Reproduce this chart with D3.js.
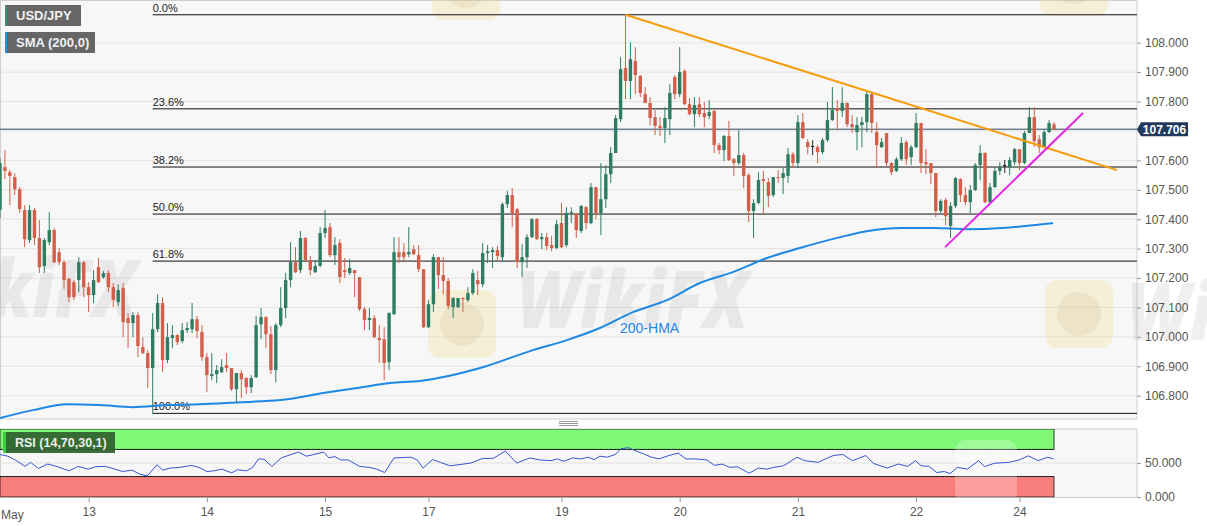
<!DOCTYPE html>
<html>
<head>
<meta charset="utf-8">
<script src="https://cdn.jsdelivr.net/npm/d3@7"></script>
<style>
  body { margin: 0; background: #fff; }
  svg { display: block; font-family: "Liberation Sans", Arial, sans-serif; }
</style>
</head>
<body>
<svg id="chart" width="1207" height="526"></svg>
<script>
// hourly USD/JPY candles
const open = [107.431,107.577,107.560,107.543,107.502,107.431,107.329,107.431,107.336,107.241,
107.322,107.363,107.288,107.254,107.197,107.186,107.193,107.254,107.169,107.142,
107.237,107.203,107.217,107.169,107.118,107.166,107.064,107.047,107.074,106.965,
106.945,106.894,107.026,107.115,106.921,106.996,107.006,106.986,107.023,107.026,
107.060,107.016,106.931,106.867,106.873,106.880,106.904,106.894,106.822,106.877,
106.860,106.829,106.863,107.043,107.067,107.009,106.887,107.040,107.098,107.193,
107.254,107.227,107.336,107.261,107.220,107.241,107.353,107.373,107.278,107.319,
107.227,107.217,107.227,107.203,107.094,107.057,107.064,106.996,106.992,106.914,
107.077,107.288,107.288,107.281,107.298,107.278,107.230,107.033,107.111,107.271,
107.210,107.190,107.101,107.101,107.132,107.125,107.149,107.193,107.179,107.285,
107.288,107.295,107.271,107.451,107.482,107.434,107.254,107.271,107.339,107.400,
107.332,107.339,107.312,107.302,107.387,107.312,107.421,107.417,107.360,107.441,
107.387,107.509,107.421,107.468,107.553,107.625,107.740,107.914,107.870,107.938,
107.887,107.825,107.795,107.747,107.717,107.710,107.740,107.883,107.825,107.904,
107.791,107.757,107.791,107.761,107.751,107.768,107.652,107.635,107.683,107.604,
107.591,107.618,107.550,107.428,107.455,107.536,107.526,107.482,107.543,107.540,
107.547,107.621,107.591,107.730,107.662,107.649,107.645,107.628,107.669,107.737,
107.778,107.768,107.795,107.723,107.696,107.720,107.730,107.825,107.696,107.645,
107.693,107.591,107.564,107.604,107.662,107.611,107.645,107.727,107.594,107.591,
107.557,107.428,107.465,107.377,107.445,107.536,107.482,107.458,107.499,107.584,
107.625,107.458,107.509,107.564,107.584,107.577,107.594,107.638,107.591,107.693,
107.747,107.672,107.645,107.696,107.723];
const high = [107.608,107.635,107.567,107.557,107.509,107.448,107.448,107.438,107.397,107.336,
107.424,107.370,107.302,107.261,107.200,107.193,107.271,107.258,107.186,107.227,
107.268,107.224,107.227,107.183,107.179,107.183,107.081,107.084,107.084,106.999,
106.955,107.081,107.145,107.135,107.047,107.040,107.009,107.047,107.050,107.115,
107.071,107.040,106.945,106.945,106.904,106.924,106.945,106.894,106.877,106.887,
106.863,106.870,107.071,107.098,107.071,107.037,107.047,107.169,107.217,107.322,
107.305,107.360,107.339,107.275,107.261,107.373,107.431,107.387,107.339,107.332,
107.268,107.264,107.227,107.203,107.101,107.098,107.074,107.040,107.033,107.084,
107.339,107.339,107.319,107.373,107.312,107.312,107.230,107.125,107.281,107.271,
107.271,107.200,107.135,107.132,107.135,107.169,107.230,107.224,107.319,107.312,
107.305,107.309,107.458,107.496,107.506,107.438,107.315,107.349,107.404,107.404,
107.353,107.353,107.343,107.397,107.455,107.441,107.441,107.421,107.448,107.445,
107.523,107.509,107.591,107.584,107.645,107.754,107.951,108.095,108.001,107.985,
107.890,107.849,107.815,107.771,107.747,107.781,107.859,107.890,107.985,107.910,
107.812,107.815,107.815,107.798,107.805,107.771,107.659,107.686,107.734,107.608,
107.703,107.625,107.557,107.468,107.560,107.564,107.540,107.543,107.567,107.574,
107.642,107.628,107.754,107.761,107.672,107.669,107.652,107.676,107.798,107.849,
107.805,107.849,107.798,107.754,107.747,107.747,107.839,107.832,107.730,107.676,
107.693,107.594,107.611,107.679,107.669,107.652,107.761,107.727,107.639,107.591,
107.557,107.468,107.472,107.458,107.543,107.540,107.509,107.516,107.591,107.652,
107.628,107.523,107.577,107.594,107.601,107.611,107.642,107.638,107.700,107.781,
107.781,107.686,107.703,107.737,107.730];
const low = [107.404,107.536,107.448,107.482,107.421,107.305,107.319,107.312,107.217,107.217,
107.312,107.251,107.244,107.163,107.118,107.125,107.152,107.135,107.084,107.115,
107.183,107.197,107.152,107.101,107.105,106.999,106.962,106.999,106.931,106.941,
106.826,106.740,107.016,106.880,106.911,106.962,106.972,106.979,107.013,107.013,
106.996,106.918,106.812,106.853,106.843,106.877,106.880,106.816,106.775,106.792,
106.805,106.809,106.860,106.992,106.962,106.873,106.846,107.033,107.064,107.169,
107.217,107.217,107.254,107.210,107.217,107.237,107.336,107.271,107.244,107.183,
107.200,107.210,107.135,107.088,107.023,107.023,106.996,106.911,106.853,106.887,
107.074,107.251,107.254,107.271,107.278,107.220,107.030,107.030,107.084,107.163,
107.145,107.094,107.064,107.098,107.084,107.118,107.142,107.142,107.169,107.251,
107.234,107.258,107.258,107.438,107.373,107.234,107.203,107.234,107.336,107.329,
107.298,107.295,107.291,107.298,107.302,107.305,107.387,107.336,107.353,107.366,
107.383,107.400,107.346,107.438,107.523,107.625,107.730,107.808,107.808,107.825,
107.815,107.795,107.720,107.686,107.683,107.659,107.686,107.808,107.815,107.788,
107.754,107.713,107.747,107.713,107.740,107.625,107.621,107.598,107.598,107.547,
107.584,107.506,107.390,107.336,107.451,107.417,107.441,107.475,107.523,107.485,
107.523,107.574,107.574,107.672,107.621,107.618,107.591,107.621,107.662,107.734,
107.703,107.747,107.713,107.693,107.635,107.645,107.696,107.693,107.574,107.642,
107.577,107.550,107.560,107.598,107.584,107.584,107.642,107.557,107.553,107.519,
107.407,107.421,107.380,107.336,107.438,107.458,107.448,107.421,107.496,107.533,
107.455,107.455,107.506,107.550,107.557,107.550,107.584,107.567,107.587,107.693,
107.645,107.625,107.642,107.693,107.703];
const close = [107.591,107.564,107.547,107.502,107.434,107.332,107.431,107.336,107.237,107.329,
107.363,107.254,107.254,107.193,107.135,107.135,107.254,107.169,107.142,107.193,
107.186,107.217,107.169,107.125,107.159,107.050,107.047,107.074,106.969,106.945,
106.894,107.026,107.115,106.921,106.999,107.006,106.982,107.023,107.030,107.060,
107.020,106.931,106.870,106.873,106.887,106.897,106.894,106.822,106.877,106.856,
106.829,106.860,107.040,107.067,107.009,106.887,107.040,107.098,107.193,107.254,
107.220,107.336,107.261,107.227,107.241,107.353,107.370,107.278,107.312,107.203,
107.220,107.234,107.217,107.094,107.057,107.064,106.999,106.989,106.911,107.081,
107.288,107.271,107.271,107.288,107.281,107.230,107.033,107.111,107.271,107.210,
107.190,107.105,107.132,107.132,107.128,107.149,107.217,107.179,107.285,107.291,
107.295,107.275,107.451,107.482,107.421,107.254,107.271,107.339,107.400,107.332,
107.339,107.309,107.302,107.383,107.305,107.421,107.424,107.363,107.445,107.387,
107.509,107.421,107.468,107.553,107.625,107.744,107.910,107.870,107.944,107.890,
107.829,107.795,107.744,107.717,107.710,107.744,107.829,107.825,107.900,107.791,
107.757,107.788,107.757,107.747,107.764,107.652,107.635,107.683,107.601,107.591,
107.618,107.547,107.428,107.455,107.533,107.530,107.479,107.543,107.540,107.557,
107.621,107.591,107.730,107.676,107.645,107.649,107.628,107.669,107.737,107.771,
107.768,107.795,107.723,107.713,107.720,107.730,107.825,107.727,107.652,107.662,
107.591,107.560,107.604,107.659,107.604,107.645,107.727,107.591,107.587,107.557,
107.428,107.462,107.410,107.445,107.540,107.482,107.458,107.499,107.584,107.625,
107.458,107.509,107.564,107.577,107.584,107.601,107.638,107.591,107.693,107.747,
107.666,107.645,107.696,107.727,107.706];

// 200-hour moving average, sampled at candle indexes
const smaIdx = [0,6.7,13.6,20.3,27,33.9,40.6,48.7,56.9,65.6,72.5,79.2,85.3,97.5,108.2,115.1,121.8,128.5,135.4,142.1,148.8,155.7,162.4,170.6,176.2,183.1,189.8,196.5,203.5,210.2,213.8];
const smaVal = [106.724,106.751,106.771,106.768,106.761,106.768,106.771,106.778,106.785,106.809,106.826,106.843,106.850,106.894,106.955,106.989,107.030,107.084,107.125,107.183,107.220,107.268,107.302,107.339,107.360,107.370,107.370,107.366,107.370,107.380,107.387];

// RSI(14) points
const rsiIdx = [0,1.6,3.1,5.1,6.2,7.8,9.7,11.7,14,15.9,17.9,19.4,21.4,23.3,24.9,26.8,28.4,29.9,31.9,33,
34.6,36.5,38.9,40.4,42,43.5,45.1,47,48.2,50.1,51.3,52.5,53.6,55.2,57.1,59.1,60.6,62.2,63.7,65.7,
66.8,68,69.2,70.7,73,75,76.5,78.1,80,83.5,84.7,85.9,87.8,89.4,91.3,93.2,95.6,97.9,100.2,102.6,
104.9,107.6,109.6,111.9,113.2,114.4,116.3,117.9,119.5,120.6,121.8,123.3,124.9,126.1,127.6,128.8,130.3,132.3,133.8,135.8,
137.7,139.3,141.2,143.5,145.1,146.6,148.2,149.7,152.1,154,155.6,157.1,159.1,160.2,161.8,163.3,166.1,167.6,169.2,171.1,
173.1,175.8,177.3,180.1,182.4,184.3,185.9,187,188.6,190.2,191.7,192.9,194.4,196.4,198.7,199.9,201.8,204.9,206.9,208.8,
210.8,212.7,213.9];
const rsiVal = [62.5,60,54.5,45,51,42,48.5,44.5,38.5,45,41,44.5,45,41,37.5,39.5,33.5,31,47.5,39.5,
42.5,43.5,46.5,43.5,37.5,38.5,41,35.5,40,38.5,43.5,56,55.5,45,57.5,62.5,66,60,62.5,66,
57.5,59.5,54.5,54.5,45,43.5,41,36,57.5,58.5,54.5,42.5,55,51,46,47.5,50,56.5,57,67.5,
50,57.5,54.5,53.5,56,52.5,57.5,56,58.5,55,60,58.5,62.5,71,72.5,68.5,64.5,58.5,56,61,
64.5,56,56,54.5,46.5,48.5,43.5,44.5,35,42.5,41,43.5,46,51,58.5,53.5,51,56,61,62.5,
53.5,61,49.5,42.5,48.5,45,53.5,46,45,36,37.5,34.5,43.5,41,53.5,44.5,49.5,51,54.5,60.5,
53.5,58.5,56];

// drawn trend lines (index, price)
const resIdx = [127, 226.8], resPrice = [108.095, 107.567];
const supIdx = [191.9, 219.9], supPrice = [107.305, 107.761];

const fibRatios = [0, 0.236, 0.382, 0.5, 0.618, 1];
const fibLabels = ["0.0%", "23.6%", "38.2%", "50.0%", "61.8%", "100.0%"];
const priceTicks = d3.range(13).map(i => 106.8 + i * 0.1);
const rsiTicks = [0, 50];
const dayIdx = [18, 42, 66, 87, 114, 138, 162, 186, 207];
const dayLabels = ["13", "14", "15", "17", "19", "20", "21", "22", "24"];

const svg = d3.select("#chart");
const plotR = 1137, mainT = 0.5, mainB = 419, rsiT = 429, rsiB = 497.5;
const upCol = "#2e7d62", dnCol = "#d35f4b";

const n = open.length;
const x = d3.scaleLinear().domain([0, n - 1]).range([0, 1054]);
const y = d3.scaleLinear().domain([106.8, 108.1]).range([395.7, 13.3]);
const yr = d3.scaleLinear().domain([0, 100]).range([497, 429]);

svg.append("rect").attr("width", 1207).attr("height", 526).attr("fill", "#fff");

// panel backgrounds
svg.append("rect").attr("x", 0.5).attr("y", mainT).attr("width", plotR - 0.5).attr("height", mainB - mainT)
  .attr("fill", "#f7f7f7").attr("stroke", "#cfcfcf");
svg.append("rect").attr("x", 0.5).attr("y", rsiT).attr("width", plotR - 0.5).attr("height", rsiB - rsiT)
  .attr("fill", "#f7f7f7").attr("stroke", "#cfcfcf");

svg.append("clipPath").attr("id", "clipMain").append("rect")
  .attr("x", 0).attr("y", mainT).attr("width", plotR).attr("height", mainB - mainT);
svg.append("clipPath").attr("id", "clipRsi").append("rect")
  .attr("x", 0).attr("y", rsiT).attr("width", plotR).attr("height", rsiB - rsiT);

// grid
svg.append("g").selectAll("line").data(priceTicks).join("line")
  .attr("x1", 1).attr("x2", plotR).attr("y1", d => y(d)).attr("y2", d => y(d))
  .attr("stroke", "#e3e3e3");

// watermarks
const wm = svg.append("g").attr("pointer-events", "none");
[[428, 290], [1045, 280], [432, -48], [1040, -52]].forEach(([wx, wy]) => {
  wm.append("rect").attr("x", wx).attr("y", wy).attr("width", 68).attr("height", 68).attr("rx", 12)
    .attr("fill", "#f3dc8a").attr("opacity", 0.28);
  wm.append("circle").attr("cx", wx + 34).attr("cy", wy + 34).attr("r", 22)
    .attr("fill", "#b9a07a").attr("opacity", 0.15);
});
[[517, 328], [-94, 317], [1127, 340]].forEach(([wx, wy]) => {
  wm.append("text").attr("x", wx).attr("y", wy).text("WikiFX")
    .attr("font-family", "Open Sans, sans-serif").attr("font-weight", 800).attr("font-style", "italic")
    .attr("font-size", 80).attr("textLength", 231).attr("lengthAdjust", "spacingAndGlyphs")
    .attr("fill", "#9a9a9a").attr("opacity", 0.15);
});

const main = svg.append("g").attr("clip-path", "url(#clipMain)");

// fibonacci retracement
const hi = d3.max(high), lo = d3.min(low), loIdx = low.indexOf(lo);
const fib = main.append("g");
fibRatios.forEach((r, i) => {
  const py = y(hi - r * (hi - lo));
  fib.append("line").attr("x1", x(loIdx)).attr("x2", plotR).attr("y1", py).attr("y2", py)
    .attr("stroke", "#111").attr("stroke-width", 1);
  fib.append("text").attr("x", x(loIdx)).attr("y", py - 3).text(fibLabels[i])
    .attr("font-size", 11).attr("fill", "#222");
});

// last price line
const last = close[n - 1];
main.append("line").attr("x1", 0).attr("x2", plotR).attr("y1", y(last)).attr("y2", y(last))
  .attr("stroke", "#34495e").attr("stroke-width", 1);

// SMA
main.append("path")
  .datum(smaIdx.map((d, i) => [d, smaVal[i]]))
  .attr("d", d3.line().x(d => x(d[0])).y(d => y(d[1])).curve(d3.curveMonotoneX))
  .attr("fill", "none").attr("stroke", "#1e88e5").attr("stroke-width", 2);
main.append("text").attr("x", 620).attr("y", 333).text("200-HMA")
  .attr("font-size", 14).attr("fill", "#1e88e5");

// candles
const cg = main.append("g");
const colOf = i => close[i] > open[i] ? upCol : (close[i] < open[i] ? dnCol : "#222");
cg.selectAll("line").data(d3.range(n)).join("line")
  .attr("x1", i => x(i)).attr("x2", i => x(i))
  .attr("y1", i => y(high[i])).attr("y2", i => y(low[i]))
  .attr("stroke", colOf).attr("stroke-width", 1);
cg.selectAll("rect").data(d3.range(n)).join("rect")
  .attr("x", i => x(i) - 1.7).attr("width", 3.4)
  .attr("y", i => y(Math.max(open[i], close[i])))
  .attr("height", i => Math.max(1, Math.abs(y(open[i]) - y(close[i]))))
  .attr("fill", colOf);

// trend lines
const tl = d3.line().x(d => x(d[0])).y(d => y(d[1]));
main.append("path").datum(resIdx.map((d, i) => [d, resPrice[i]])).attr("d", tl)
  .attr("stroke", "#f59d0b").attr("stroke-width", 2).attr("fill", "none");
main.append("path").datum(supIdx.map((d, i) => [d, supPrice[i]])).attr("d", tl)
  .attr("stroke", "#e626e6").attr("stroke-width", 2).attr("fill", "none");

// price axis
const yAxis = svg.append("g").attr("transform", `translate(${plotR},0)`)
  .call(d3.axisRight(y).tickValues(priceTicks).tickFormat(d3.format(".3f")).tickSize(4).tickPadding(4));
yAxis.select(".domain").remove();
yAxis.selectAll(".tick line").attr("stroke", "#999");
yAxis.selectAll("text").attr("fill", "#555").attr("font-size", 12).attr("font-family", "Liberation Sans, Arial, sans-serif");

// last price tag
const tag = svg.append("g").attr("transform", `translate(0,${y(last)})`);
tag.append("path").attr("d", "M1137,0 L1141,-7 L1188,-7 L1188,7 L1141,7 Z").attr("fill", "#1f3a5c");
tag.append("text").attr("x", 1164.5).attr("y", 4.5).attr("text-anchor", "middle").text(last.toFixed(3))
  .attr("fill", "#fff").attr("font-weight", "bold").attr("font-size", 12);

// legend boxes
const legend = [["USD/JPY", 5, 5, 76, "#3a8f6e"], ["SMA (200,0)", 5, 32, 90, "#2a8fd6"]];
legend.forEach(([t, lx, ly, w, c]) => {
  svg.append("rect").attr("x", lx).attr("y", ly).attr("width", w).attr("height", 21).attr("fill", "#666");
  svg.append("rect").attr("x", lx).attr("y", ly).attr("width", 2).attr("height", 21).attr("fill", c);
  svg.append("text").attr("x", lx + 11).attr("y", ly + 15).text(t)
    .attr("fill", "#f2f2f2").attr("font-weight", "bold").attr("font-size", 13);
});

// panel grip
svg.append("g").selectAll("line").data([421.5, 423.5, 425.5]).join("line")
  .attr("x1", 559).attr("x2", 578).attr("y1", d => d).attr("y2", d => d).attr("stroke", "#999");

// RSI panel
const rsi = svg.append("g").attr("clip-path", "url(#clipRsi)");
rsi.append("line").attr("x1", 0).attr("x2", plotR).attr("y1", yr(50)).attr("y2", yr(50)).attr("stroke", "#e0e0e0");
rsi.append("rect").attr("x", 0).attr("y", yr(100)).attr("width", x(n - 1)).attr("height", yr(70) - yr(100))
  .attr("fill", "#7ff878").attr("stroke", "#111").attr("stroke-width", 0.8);
rsi.append("rect").attr("x", 0).attr("y", yr(30)).attr("width", x(n - 1)).attr("height", yr(0) - yr(30))
  .attr("fill", "#f87e7e").attr("stroke", "#111").attr("stroke-width", 0.8);
[70, 30].forEach(v => rsi.append("line").attr("x1", 0).attr("x2", x(n - 1)).attr("y1", yr(v)).attr("y2", yr(v))
  .attr("stroke", "#222").attr("stroke-dasharray", "2,1"));
rsi.append("rect").attr("x", 955).attr("y", 440).attr("width", 62).attr("height", 62).attr("rx", 10)
  .attr("fill", "#fff").attr("opacity", 0.25);
rsi.append("path")
  .datum(rsiIdx.map((d, i) => [d, rsiVal[i]]))
  .attr("d", d3.line().x(d => x(d[0])).y(d => yr(d[1])))
  .attr("fill", "none").attr("stroke", "#3454d1").attr("stroke-width", 1);

svg.append("rect").attr("x", 3).attr("y", 432).attr("width", 112).attr("height", 21).attr("fill", "#2f5f2f").attr("opacity", 0.92);
svg.append("rect").attr("x", 3).attr("y", 432).attr("width", 3).attr("height", 21).attr("fill", "#3ccf3c");
svg.append("text").attr("x", 15).attr("y", 447).text("RSI (14,70,30,1)")
  .attr("fill", "#eee").attr("font-weight", "bold").attr("font-size", 12.5);

const rAxis = svg.append("g").attr("transform", `translate(${plotR},0)`)
  .call(d3.axisRight(yr).tickValues(rsiTicks).tickFormat(d3.format(".3f")).tickSize(4).tickPadding(4));
rAxis.select(".domain").remove();
rAxis.selectAll(".tick line").attr("stroke", "#999");
rAxis.selectAll("text").attr("fill", "#555").attr("font-size", 12).attr("font-family", "Liberation Sans, Arial, sans-serif");

// time axis
const xAxis = svg.append("g").attr("transform", `translate(0,${rsiB})`)
  .call(d3.axisBottom(x).tickValues(dayIdx).tickFormat((d, i) => dayLabels[i]).tickSize(5).tickPadding(5));
xAxis.select(".domain").remove();
xAxis.selectAll(".tick line").attr("stroke", "#999");
xAxis.selectAll("text").attr("fill", "#555").attr("font-size", 12).attr("font-family", "Liberation Sans, Arial, sans-serif");
svg.append("text").attr("x", 1).attr("y", 519).text("May").attr("fill", "#555").attr("font-size", 12);
</script>
</body>
</html>
